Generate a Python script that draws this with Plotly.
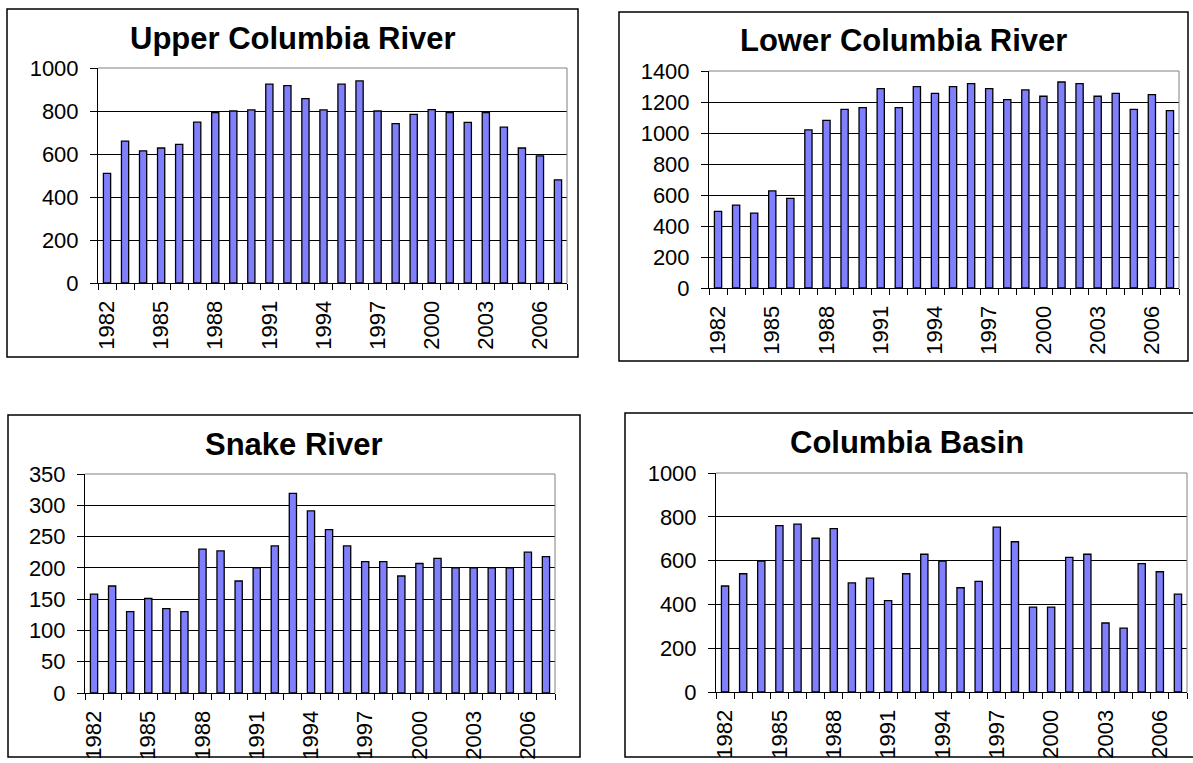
import plotly.graph_objects as go

years = list(range(1982, 2008))
upper_columbia = [510, 660, 615, 628, 645, 748, 792, 800, 805, 925, 918, 858, 805,
                  925, 940, 800, 741, 784, 806, 792, 747, 792, 725, 628, 591, 480]
lower_columbia = [494, 535, 483, 627, 578, 1020, 1082, 1153, 1164, 1286, 1164, 1299, 1256,
                  1299, 1318, 1286, 1215, 1278, 1237, 1329, 1318, 1237, 1256, 1153, 1248, 1145]
snake_river = [158, 171, 130, 151, 135, 130, 230, 227, 179, 200, 235, 319, 291,
               261, 235, 210, 210, 187, 207, 215, 200, 200, 200, 200, 225, 218]
columbia_basin = [484, 540, 598, 760, 767, 702, 746, 498, 520, 417, 540, 629, 598,
                  476, 505, 753, 686, 388, 388, 615, 629, 315, 292, 586, 549, 447]
label_years = years[::3]

W, H = 1193, 763
FONT = "Arial, Liberation Sans, sans-serif"

# title, values, y max, y step, plot area (px), outer box (px)
panels = [
    ("Upper Columbia River", upper_columbia, 1000, 200, (98, 567, 68, 283), (7, 578, 9, 357)),
    ("Lower Columbia River", lower_columbia, 1400, 200, (709, 1179, 71, 288), (619, 1188, 12, 361)),
    ("Snake River", snake_river, 350, 50, (85, 555, 474, 693), (8, 580, 415, 757)),
    ("Columbia Basin", columbia_basin, 1000, 200, (716, 1187, 473, 692), (625, 1200, 413, 757)),
]

def fx(p):
    return p / W

def fy(p):
    return 1 - p / H

fig = go.Figure()
shapes = []
annotations = []

for i, (title, vals, ymax, step, plot, box) in enumerate(panels, start=1):
    sfx = "" if i == 1 else str(i)
    fig.add_trace(go.Bar(x=years, y=vals, width=0.4,
                         marker=dict(color="#8080FF", line=dict(color="black", width=1.3)),
                         xaxis="x" + sfx, yaxis="y" + sfx, showlegend=False))
    x0, x1, y0, y1 = plot
    fig.update_layout({
        "xaxis" + sfx: dict(domain=[fx(x0), fx(x1)], anchor="y" + sfx, automargin=False,
                            range=[1981.5, 2007.5], tickmode="array",
                            tickvals=label_years, ticktext=[str(y) for y in label_years],
                            tickangle=-90, ticks="", ticklabelstandoff=8,
                            minor=dict(ticks="outside", ticklen=6, tick0=1981.5, dtick=1,
                                       tickcolor="black", showgrid=False),
                            showline=True, linecolor="black", linewidth=1,
                            showgrid=False, zeroline=False,
                            tickfont=dict(family=FONT, size=22, color="black")),
        "yaxis" + sfx: dict(domain=[fy(y1), fy(y0)], anchor="x" + sfx, automargin=False,
                            range=[0, ymax], dtick=step, ticks="outside", ticklen=7,
                            tickcolor="black", showline=True, linecolor="black", linewidth=1,
                            showgrid=True, gridcolor="black", gridwidth=1, zeroline=False,
                            ticklabelstandoff=7,
                            tickfont=dict(family=FONT, size=22, color="black")),
    })
    # grey top/right edge of the plot area
    shapes.append(dict(type="line", xref="x" + sfx + " domain", yref="y" + sfx + " domain",
                       x0=0, x1=1, y0=1, y1=1, line=dict(color="#808080", width=1)))
    shapes.append(dict(type="line", xref="x" + sfx + " domain", yref="y" + sfx + " domain",
                       x0=1, x1=1, y0=0, y1=1, line=dict(color="#808080", width=1)))
    bx0, bx1, by0, by1 = box
    shapes.append(dict(type="rect", xref="paper", yref="paper",
                       x0=fx(bx0), x1=fx(bx1), y0=fy(by1), y1=fy(by0),
                       line=dict(color="black", width=1.5)))
    annotations.append(dict(text="<b>%s</b>" % title, xref="paper", yref="paper",
                            x=fx((bx0 + min(bx1, 1188)) / 2), y=fy(by0 + 29),
                            xanchor="center", yanchor="middle", showarrow=False,
                            font=dict(family=FONT, size=31, color="black")))

fig.update_layout(template="none", width=W, height=H,
                  margin=dict(l=0, r=0, t=0, b=0, autoexpand=False),
                  plot_bgcolor="white", paper_bgcolor="white",
                  shapes=shapes, annotations=annotations, bargap=0.6)

# page body has a default 8px margin; drop it so the figure sits at the window origin
fig.write_html("out.html", config={"displayModeBar": False},
               post_script="document.body.style.margin='0';")
